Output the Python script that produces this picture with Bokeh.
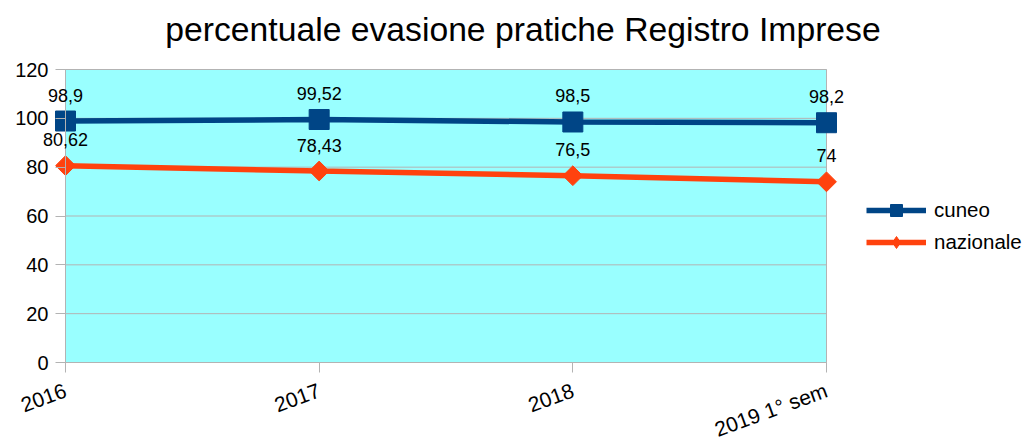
from bokeh.plotting import figure
from bokeh.models import (Range1d, FixedTicker, ColumnDataSource, Legend, LegendItem, Label)
from bokeh.embed import file_html
from bokeh.resources import INLINE
import numpy as np

categories = ["2016", "2017", "2018", "2019 1° sem"]
cuneo = [98.9, 99.52, 98.5, 98.2]
nazionale = [80.62, 78.43, 76.5, 74]
cuneo_labels = ["98,9", "99,52", "98,5", "98,2"]
nazionale_labels = ["80,62", "78,43", "76,5", "74"]
y_ticks = [0, 20, 40, 60, 80, 100, 120]
title_text = "percentuale evasione pratiche Registro Imprese"

FONT = "Liberation Sans"
BLUE = "#004586"
ORANGE = "#ff420e"
GRID = "#b3b3b3"
WALL = "#99ffff"

W, H = 1026, 443
# pixel layout of the plot wall inside the canvas
PX_L, PX_R, PX_T, PX_B = 65, 826, 69, 362

xs = list(range(len(categories)))
x0, x1 = xs[0], xs[-1]
y0, y1 = y_ticks[0], y_ticks[-1]
kx = (PX_R - PX_L) / (x1 - x0)
ky = (PX_B - PX_T) / (y1 - y0)
x_range = Range1d(x0 - PX_L / kx, x1 + (W - PX_R) / kx)
y_range = Range1d(y0 - (H - PX_B) / ky, y1 + PX_T / ky)

p = figure(width=W, height=H, output_backend="svg", toolbar_location=None,
           x_range=x_range, y_range=y_range,
           min_border_left=0, min_border_right=0, min_border_top=0, min_border_bottom=0)
p.background_fill_color = "white"
p.border_fill_color = "white"
p.outline_line_color = None

# plot wall
p.quad(left=[x0], right=[x1], bottom=[y0], top=[y1], fill_color=WALL,
       line_color=GRID, line_width=1, level="image")
# horizontal grid lines limited to the wall
p.segment(x0=[x0] * len(y_ticks), x1=[x1] * len(y_ticks), y0=y_ticks, y1=y_ticks,
          line_color=GRID, line_width=1)

p.xgrid.grid_line_color = None
p.ygrid.grid_line_color = None

p.yaxis.ticker = FixedTicker(ticks=y_ticks)
p.yaxis.fixed_location = x0
p.yaxis.bounds = (y0, y1)
p.xaxis.ticker = FixedTicker(ticks=xs)
p.xaxis.fixed_location = y0
p.xaxis.bounds = (x0, x1)
p.xaxis.major_label_overrides = {i: c for i, c in enumerate(categories)}
p.xaxis.major_label_orientation = np.deg2rad(20)

for ax in (p.xaxis[0], p.yaxis[0]):
    ax.axis_line_color = GRID
    ax.major_tick_line_color = GRID
    ax.major_tick_in = 0
    ax.major_tick_out = 10
    ax.minor_tick_line_color = None
    ax.major_label_text_font = FONT
    ax.major_label_text_color = "black"
p.yaxis.major_label_text_font_size = "20px"
p.xaxis.major_label_text_font_size = "21px"
p.yaxis.major_label_standoff = 7
p.xaxis.major_label_standoff = 17

src_c = ColumnDataSource(dict(x=xs, y=cuneo))
src_n = ColumnDataSource(dict(x=xs, y=nazionale))

lc = p.line("x", "y", source=src_c, line_color=BLUE, line_width=5.5)
mc = p.scatter("x", "y", source=src_c, marker="square", size=20, fill_color=BLUE, line_color=BLUE)
ln = p.line("x", "y", source=src_n, line_color=ORANGE, line_width=5.5)
# diamond used for the legend symbol (hidden under the plotted markers)
mn_leg = p.scatter("x", "y", source=src_n, marker="diamond", size=15,
                   fill_color=ORANGE, line_color=ORANGE)
mn = p.scatter("x", "y", source=src_n, marker="square", angle=np.pi / 4, size=14,
               fill_color=ORANGE, line_color=ORANGE)

for vals, labs in ((cuneo, cuneo_labels), (nazionale, nazionale_labels)):
    for xi, yi, lab in zip(xs, vals, labs):
        p.add_layout(Label(x=xi, y=yi, text=lab, y_offset=26,
                           text_align="center", text_baseline="middle",
                           text_font=FONT, text_font_size="18px", text_color="black"))

# chart title
p.add_layout(Label(x=522.5, y=H - 28, x_units="screen", y_units="screen", text=title_text,
                   text_align="center", text_baseline="alphabetic",
                   text_font=FONT, text_font_size="33.7px", text_color="black"))

legend = Legend(items=[LegendItem(label="cuneo", renderers=[lc, mc]),
                       LegendItem(label="nazionale", renderers=[ln, mn_leg])],
                location=(866, H - 257), padding=0, margin=0, spacing=2,
                glyph_width=60, glyph_height=30, label_height=30,
                label_text_font=FONT, label_text_font_size="20.5px", label_text_color="black",
                label_standoff=8, border_line_color=None, background_fill_alpha=0)
p.add_layout(legend, "center")

open("out.html", "w").write(file_html(p, INLINE))
